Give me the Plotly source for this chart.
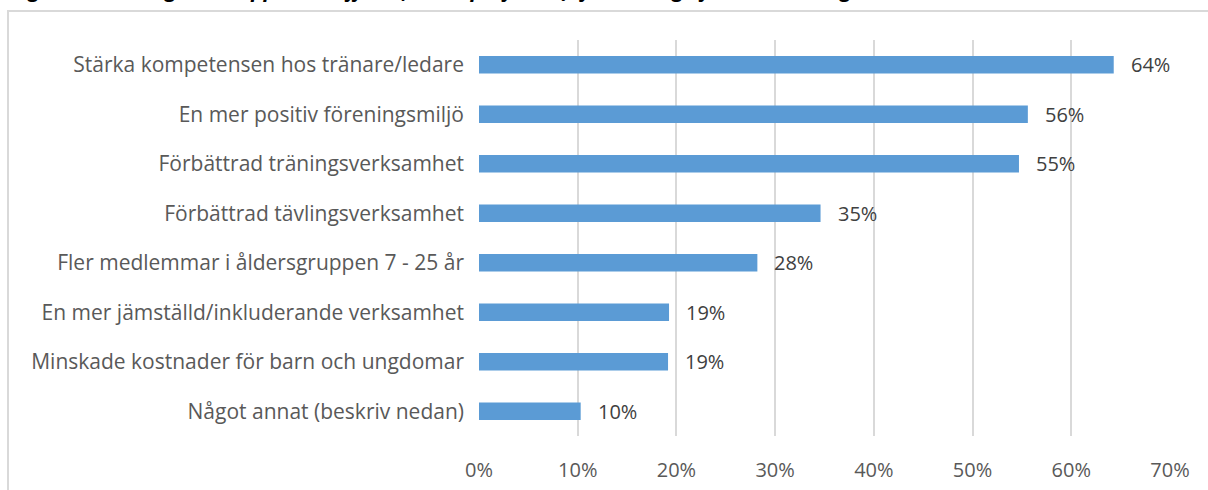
import plotly.graph_objects as go

categories = [
    "Stärka kompetensen hos tränare/ledare",
    "En mer positiv föreningsmiljö",
    "Förbättrad träningsverksamhet",
    "Förbättrad tävlingsverksamhet",
    "Fler medlemmar i åldersgruppen 7 - 25 år",
    "En mer jämställd/inkluderande verksamhet",
    "Minskade kostnader för barn och ungdomar",
    "Något annat (beskriv nedan)",
]
values = [0.643, 0.556, 0.547, 0.346, 0.282, 0.1925, 0.1915, 0.103]
value_labels = ["64%", "56%", "55%", "35%", "28%", "19%", "19%", "10%"]
tick_vals = [0, 0.1, 0.2, 0.3, 0.4, 0.5, 0.6, 0.7]
tick_text = ["0%", "10%", "20%", "30%", "40%", "50%", "60%", "70%"]
title_text = "Figur 5. Föreningarnas upplevda effekt (under projektet), fördelning efter svarskategori"

FONT = "Open Sans"
GRAY = "#595959"

fig = go.Figure()
fig.add_trace(go.Bar(
    x=values, y=categories, orientation="h",
    marker=dict(color="#5b9bd5", line=dict(width=0)),
    hoverinfo="skip",
))

for v, c, t in zip(values, categories, value_labels):
    fig.add_annotation(x=v, y=c, text=t, showarrow=False, xanchor="left",
                       xshift=15, font=dict(family=FONT, size=20, color="#404040"))

fig.add_annotation(xref="paper", yref="paper", x=-0.68, y=1.0, yshift=35,
                   xanchor="left", yanchor="bottom", showarrow=False,
                   text="<b><i>" + title_text + "</i></b>",
                   font=dict(family=FONT, size=21, color="#000000"))

fig.add_shape(type="rect", xref="paper", yref="paper",
              x0=-0.6816, x1=1.3, y0=-0.3, y1=1.0732,
              line=dict(color="#d9d9d9", width=2), layer="below")

fig.update_layout(
    width=1208, height=490,
    margin=dict(l=479, r=38, t=40, b=54),
    paper_bgcolor="white", plot_bgcolor="white",
    showlegend=False, bargap=0.65,
    font=dict(family=FONT, size=20, color=GRAY),
    xaxis=dict(range=[0, 0.7], tickvals=tick_vals, ticktext=tick_text,
               showgrid=True, gridcolor="#d9d9d9", gridwidth=2,
               zeroline=False, showline=False, ticks="",
               ticklabelstandoff=20, automargin=False,
               tickfont=dict(family=FONT, size=20, color=GRAY)),
    yaxis=dict(autorange="reversed", showgrid=False, zeroline=False,
               showline=False, ticks="", ticklabelstandoff=14, automargin=False,
               tickfont=dict(family=FONT, size=21, color=GRAY)),
)

fig.write_html("out.html", config={"displayModeBar": False},
               post_script="document.body.style.margin='0';")
